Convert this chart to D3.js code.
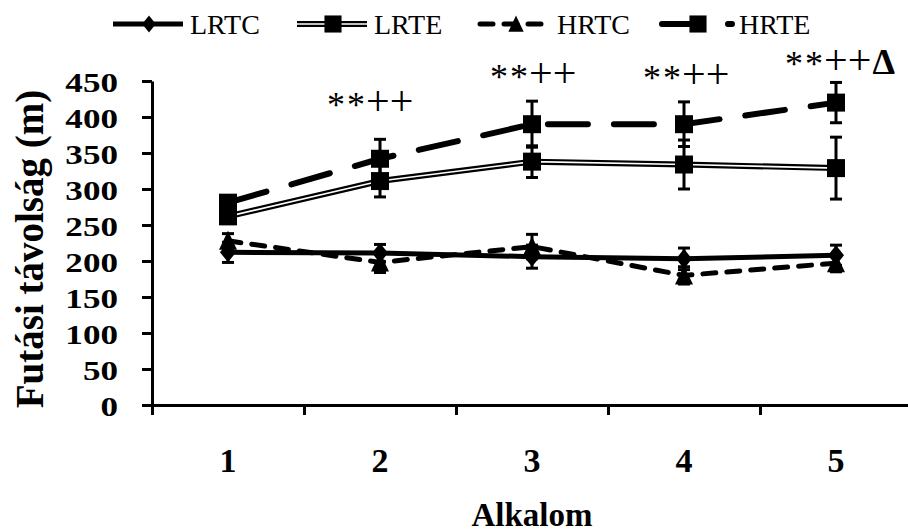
<!DOCTYPE html>
<html>
<head>
<meta charset="utf-8">
<script src="https://cdnjs.cloudflare.com/ajax/libs/d3/7.8.5/d3.min.js"></script>
<style>
body { margin: 0; background: #fff; }
svg { display: block; }
text { font-family: "Liberation Serif", "Times New Roman", serif; fill: #000; }
</style>
</head>
<body>
<svg id="chart" width="908" height="532"></svg>
<script>
// x categories (session number)
const sessions = ["1", "2", "3", "4", "5"];

// running distance (m), mean and error bar per group
const lrtcMean = [212, 211, 206, 203, 208];
const lrtcErr  = [14, 12, 16, 15, 14];
const lrteMean = [262, 311, 338, 334, 329];
const lrteErr  = [10, 22, 22, 34, 43];
const hrtcMean = [228, 198, 220, 180, 197];
const hrtcErr  = [10, 14, 17, 12, 12];
const hrteMean = [281, 342, 390, 390, 420];
const hrteErr  = [10, 27, 32, 31, 28];

const yTicks = [0, 50, 100, 150, 200, 250, 300, 350, 400, 450];

// significance marks above each session
const stars = ["", "**", "**", "**", "**"];
const pluses = ["", "++", "++", "++", "++"];
const deltas = ["", "", "", "", "\u0394"];

const series = [
    { name: "LRTC", mean: lrtcMean, err: lrtcErr, style: "solid", marker: "diamond" },
    { name: "LRTE", mean: lrteMean, err: lrteErr, style: "double", marker: "square" },
    { name: "HRTC", mean: hrtcMean, err: hrtcErr, style: "short", marker: "triangle" },
    { name: "HRTE", mean: hrteMean, err: hrteErr, style: "long", marker: "square" }
];

const margin = { top: 81, left: 152, bottom: 127 };
const width = 760, height = 532 - margin.top - margin.bottom;

const svg = d3.select("#chart");

const x = d3.scaleBand().domain(sessions).range([margin.left, margin.left + width]);
const xEdge = d3.scaleLinear().domain([0, sessions.length]).range([margin.left, margin.left + width]);
const y = d3.scaleLinear().domain([0, 450]).range([margin.top + height, margin.top]);
const cx = d => x(d) + x.bandwidth() / 2;

// ---- axes
const yAxis = svg.append("g")
    .attr("transform", `translate(${margin.left},0)`)
    .call(d3.axisLeft(y).tickValues(yTicks).tickSize(10).tickSizeOuter(0));

yAxis.selectAll("path, line").attr("stroke", "#000").attr("stroke-width", 3);
yAxis.selectAll(".tick text")
    .attr("font-size", 27)
    .attr("font-weight", "bold")
    .attr("font-family", "Liberation Serif")
    .attr("x", -34 / 1.3)
    .attr("dy", null)
    .attr("y", 10)
    .attr("transform", "scale(1.3,1)");

const xBase = svg.append("g")
    .attr("transform", `translate(0,${y(0)})`)
    .call(d3.axisBottom(xEdge).tickValues([0, 1, 2, 3, 4]).tickSize(10).tickSizeOuter(0).tickFormat(""));
xBase.selectAll("path, line").attr("stroke", "#000").attr("stroke-width", 3);

const xAxis = svg.append("g")
    .attr("transform", `translate(0,${y(0)})`)
    .call(d3.axisBottom(x).tickSize(0));
xAxis.select("path").remove();
xAxis.selectAll(".tick text")
    .attr("font-size", 34)
    .attr("font-weight", "bold")
    .attr("font-family", "Liberation Serif")
    .attr("dy", null)
    .attr("y", 67);

svg.append("text")
    .attr("x", (margin.left + margin.left + width) / 2)
    .attr("y", 526)
    .attr("text-anchor", "middle")
    .attr("font-size", 33)
    .attr("font-weight", "bold")
    .text("Alkalom");

svg.append("text")
    .attr("transform", "translate(43,249) rotate(-90)")
    .attr("text-anchor", "middle")
    .attr("font-size", 39)
    .attr("font-weight", "bold")
    .text("Futási távolság (m)");

// ---- line styles and markers
function styleLine(sel, style) {
    if (style === "double") {
        sel.clone().attr("stroke", "#000").attr("stroke-width", 6).lower();
        sel.attr("stroke", "#fff").attr("stroke-width", 1.6);
        return;
    }
    sel.attr("stroke", "#000")
        .attr("stroke-width", style === "long" ? 6 : 5)
        .attr("stroke-linecap", style === "solid" ? "butt" : "round")
        .attr("stroke-dasharray", style === "long" ? "40,26" : style === "short" ? "13,11" : null);
}

function markerPath(type) {
    if (type === "square") return "M-9,-9H9V9H-9Z";
    if (type === "diamond") return "M0,-10L8,0L0,10L-8,0Z";
    return "M0,-10L9,9H-9Z";
}

const line = d3.line().x(d => cx(d.s)).y(d => y(d.v));

series.forEach(sr => {
    const pts = sessions.map((s, i) => ({ s: s, v: sr.mean[i], e: sr.err[i] }));
    const g = svg.append("g").attr("class", "series-" + sr.name);

    const path = g.append("path")
        .attr("d", line(pts))
        .attr("fill", "none");
    styleLine(path, sr.style);

    // error bars
    const eb = g.selectAll("g.err").data(pts).join("g").attr("class", "err")
        .attr("stroke", "#000").attr("stroke-width", 3);
    eb.append("line")
        .attr("x1", d => cx(d.s)).attr("x2", d => cx(d.s))
        .attr("y1", d => y(d.v - d.e)).attr("y2", d => y(d.v + d.e));
    eb.append("line")
        .attr("x1", d => cx(d.s) - 6).attr("x2", d => cx(d.s) + 6)
        .attr("y1", d => y(d.v + d.e)).attr("y2", d => y(d.v + d.e));
    eb.append("line")
        .attr("x1", d => cx(d.s) - 6).attr("x2", d => cx(d.s) + 6)
        .attr("y1", d => y(d.v - d.e)).attr("y2", d => y(d.v - d.e));

    g.selectAll("path.mk").data(pts).join("path")
        .attr("class", "mk")
        .attr("d", markerPath(sr.marker))
        .attr("transform", d => `translate(${cx(d.s)},${y(d.v)})`)
        .attr("fill", "#000");
});

// ---- significance marks (start x, baseline y)
const markPos = [null, [327, 115], [490, 87], [643, 88], [785, 74]];
const markData = sessions.map((s, i) => ({ i: i, p: markPos[i] })).filter(d => stars[d.i]);
const mk = svg.selectAll("text.mark")
    .data(markData)
    .join("text")
    .attr("class", "mark")
    .attr("x", d => d.p[0])
    .attr("y", d => d.p[1]);

mk.each(function (d) {
    const t = d3.select(this);
    stars[d.i].split("").forEach((c, k) => {
        t.append("tspan").attr("font-size", 36).attr("dx", k ? 2 : 0).attr("dy", k ? 0 : 2).text(c);
    });
    t.append("tspan").attr("font-size", 42).attr("dx", 1).attr("dy", -2).text(pluses[d.i]);
    if (deltas[d.i]) {
        t.append("tspan").attr("font-size", 36).attr("font-weight", "bold").attr("dx", 1).text(deltas[d.i]);
    }
});

// ---- legend
const legendX = [113, 297, 480, 662];
const legend = svg.selectAll("g.legend")
    .data(series)
    .join("g")
    .attr("class", "legend")
    .attr("transform", (d, i) => `translate(${legendX[i]},24)`);

legend.each(function (d) {
    const g = d3.select(this);
    const p = g.append("path").attr("d", "M0,0H70").attr("fill", "none");
    styleLine(p, d.style);
    g.append("path")
        .attr("d", markerPath(d.marker))
        .attr("transform", d.marker === "square" ? "translate(36,0) scale(0.95)" : "translate(36,0) scale(0.85)")
        .attr("fill", "#000");
    g.append("text")
        .attr("x", 77)
        .attr("y", 10)
        .attr("font-size", 28)
        .text(d.name);
});
</script>
</body>
</html>
